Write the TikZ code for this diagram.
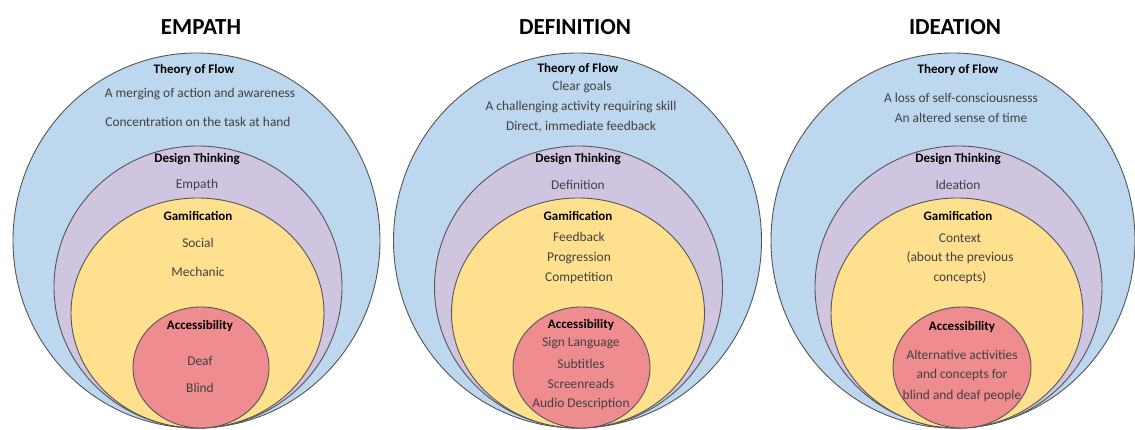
\documentclass[tikz,border=0pt]{standalone}
\usepackage{fontspec}
\setmainfont{Carlito}
\definecolor{cblue}{HTML}{BDD7EE}
\definecolor{cpurple}{HTML}{CFC5E0}
\definecolor{cyellow}{HTML}{FFE08F}
\definecolor{cred}{HTML}{EF8C8F}
\definecolor{cline}{HTML}{555555}
\definecolor{ctext}{HTML}{404040}
\tikzset{
  ring/.style={draw=cline, line width=0.9pt},
  ttl/.style={font=\fontsize{23}{26}\selectfont\bfseries, text=black, inner sep=0pt},
  head/.style={font=\fontsize{13}{15}\selectfont\bfseries, text=black, inner sep=0pt},
  body/.style={font=\fontsize{13.4}{15}\selectfont, text=ctext, inner sep=0pt},
}
\begin{document}
\begin{tikzpicture}[x=1pt,y=-1pt]
\useasboundingbox (0,0) rectangle (1135,430);
\fill[white] (0,0) rectangle (1135,430);
\begin{scope}
\clip (0,0) rectangle (1135,430);
% set 1
\draw[ring, fill=cblue]   (196.5,240.5) ellipse [x radius=183.5, y radius=187.5];
\draw[ring, fill=cpurple] (198,287) ellipse [x radius=144, y radius=141];
\draw[ring, fill=cyellow] (197.5,313) ellipse [x radius=126.5, y radius=115];
\draw[ring, fill=cred]    (201,367.5) ellipse [x radius=68, y radius=60.5];
% set 2
\draw[ring, fill=cblue]   (577.5,240.5) ellipse [x radius=184, y radius=187.5];
\draw[ring, fill=cpurple] (578.5,287) ellipse [x radius=144, y radius=141];
\draw[ring, fill=cyellow] (578,313) ellipse [x radius=126.5, y radius=115];
\draw[ring, fill=cred]    (581.5,367.5) ellipse [x radius=68.5, y radius=60.5];
% set 3
\draw[ring, fill=cblue]   (953,240.5) ellipse [x radius=182, y radius=187.5];
\draw[ring, fill=cpurple] (958.5,287) ellipse [x radius=143.5, y radius=141];
\draw[ring, fill=cyellow] (957,313) ellipse [x radius=126, y radius=115];
\draw[ring, fill=cred]    (962,367.5) ellipse [x radius=69, y radius=60.5];
\end{scope}
% titles
\node[ttl] (t1) at (201,27) {EMPATH};
\node[ttl] (t2) at (575,27) {DEFINITION};
\node[ttl] (t3) at (955,27) {IDEATION};
% set 1 texts
\node[head] (a1) at (194,70) {Theory of Flow};
\node[body] (a2) at (200,94) {A merging of action and awareness};
\node[body] (a3) at (198,122) {Concentration on the task at hand};
\node[head] (a4) at (197,159) {Design Thinking};
\node[body] (a5) at (197,185) {Empath};
\node[head] (a6) at (198,216) {Gamification};
\node[body] (a7) at (198,243) {Social};
\node[body] (a8) at (198,272) {Mechanic};
\node[head] (a9) at (200,326) {Accessibility};
\node[body] (a10) at (200,361) {Deaf};
\node[body] (a11) at (200,388) {Blind};
% set 2 texts
\node[head] (b1) at (578,69) {Theory of Flow};
\node[body] (b2) at (582,87) {Clear goals};
\node[body] (b3) at (581,107) {A challenging activity requiring skill};
\node[body] (b4) at (581,127) {Direct, immediate feedback};
\node[head] (b5) at (578,159) {Design Thinking};
\node[body] (b6) at (578,185) {Definition};
\node[head] (b7) at (578,216) {Gamification};
\node[body] (b8) at (579,237) {Feedback};
\node[body] (b9) at (579,258) {Progression};
\node[body] (b10) at (579,278) {Competition};
\node[head] (b11) at (581,325) {Accessibility};
\node[body] (b12) at (581,343) {Sign Language};
\node[body] (b13) at (581,364) {Subtitles};
\node[body] (b14) at (581,384) {Screenreads};
\node[body] (b15) at (581,404) {Audio Description};
% set 3 texts
\node[head] (c1) at (958,70) {Theory of Flow};
\node[body] (c2) at (961,98) {A loss of self-consciousnesss};
\node[body] (c3) at (961,118) {An altered sense of time};
\node[head] (c4) at (958,159) {Design Thinking};
\node[body] (c5) at (958,185) {Ideation};
\node[head] (c6) at (958,216) {Gamification};
\node[body] (c7) at (960,238) {Context};
\node[body] (c8) at (960,258) {(about the previous};
\node[body] (c9) at (960,278) {concepts)};
\node[head] (c10) at (962,327) {Accessibility};
\node[body] (c11) at (962,355) {Alternative activities};
\node[body] (c12) at (962,375) {and concepts for};
\node[body] (c13) at (962,396) {blind and deaf people};
\end{tikzpicture}
\end{document}
